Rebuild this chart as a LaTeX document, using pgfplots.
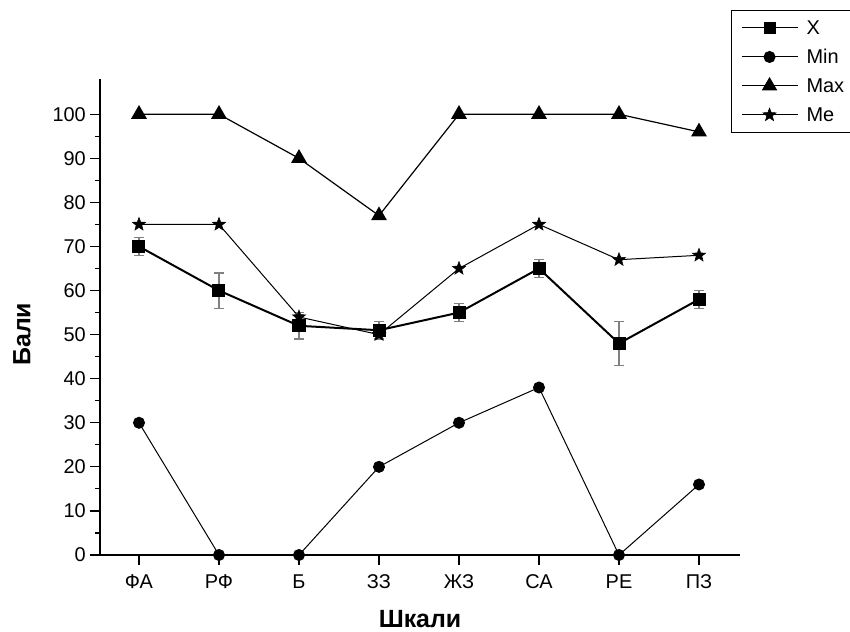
\documentclass[border=0pt]{standalone}
\usepackage{fontspec}
\setmainfont{Liberation Sans}
\usepackage{pgfplots}
\pgfplotsset{compat=1.18}
\pgfdeclareplotmark{fstar}{%
  \pgfpathmoveto{\pgfpointpolar{90}{\pgfplotmarksize}}%
  \pgfpathlineto{\pgfpointpolar{126}{0.42\pgfplotmarksize}}%
  \pgfpathlineto{\pgfpointpolar{162}{\pgfplotmarksize}}%
  \pgfpathlineto{\pgfpointpolar{198}{0.42\pgfplotmarksize}}%
  \pgfpathlineto{\pgfpointpolar{234}{\pgfplotmarksize}}%
  \pgfpathlineto{\pgfpointpolar{270}{0.42\pgfplotmarksize}}%
  \pgfpathlineto{\pgfpointpolar{306}{\pgfplotmarksize}}%
  \pgfpathlineto{\pgfpointpolar{342}{0.42\pgfplotmarksize}}%
  \pgfpathlineto{\pgfpointpolar{18}{\pgfplotmarksize}}%
  \pgfpathlineto{\pgfpointpolar{54}{0.42\pgfplotmarksize}}%
  \pgfpathclose
  \pgfusepathqfillstroke}
\begin{document}
\fontsize{20}{23}\selectfont
\begin{tikzpicture}[font=\fontsize{20}{23}\selectfont]
\path[use as bounding box] (-100bp,-77bp) rectangle (750bp,555bp);
\begin{axis}[
  at={(0,0)}, anchor=south west,
  scale only axis, width=640bp, height=476bp,
  xmin=-0.4875, xmax=7.5125, ymin=0, ymax=108,
  clip=false,
  axis x line=bottom, axis y line=left,
  axis line style={-, line width=1.5bp},
  xtick={0,...,7}, xticklabels={ФА,РФ,Б,ЗЗ,ЖЗ,СА,РЕ,ПЗ},
  ytick={0,10,...,100}, minor y tick num=1,
  tick align=outside, major tick length=10bp, minor tick length=5bp,
  tick style={line width=1.2bp, black},
  tick label style={font=\fontsize{20}{23}\selectfont},
  yticklabel style={inner xsep=4bp},
  xticklabel style={anchor=north, text height=14.3bp, text depth=0bp, inner ysep=9bp},
  /pgf/number format/assume math mode=true,
  xlabel={Шкали}, ylabel={Бали},
  label style={font=\fontsize{25}{28}\selectfont\bfseries},
  xlabel style={at={(axis description cs:0.5,-0.1345)}, anchor=center},
  ylabel style={at={(axis description cs:-0.122,0.464)}, anchor=center},
  legend style={at={(axis description cs:0.986,1.145)}, anchor=north west,
    draw=black, line width=1bp, inner xsep=9bp, inner ysep=3bp,
    nodes={font=\fontsize{20}{23}\selectfont, text height=14bp, text depth=0bp, inner ysep=7.5bp, inner xsep=4bp}},
  legend cell align=left,
  legend image code/.code={\draw[mark repeat=2, mark phase=2, #1, line width=1bp] plot coordinates {(0bp,0bp) (28bp,0bp) (56bp,0bp)}; \path (0bp,0bp) (60bp,0bp);},
]
\addplot[black, line width=2bp, mark=square*, mark size=5.5bp, mark options={solid, fill=black},
  error bars/.cd, y dir=both, y explicit,
  error bar style={gray, line width=1.2bp},
  error mark options={gray, line width=1.2bp, mark size=5bp, rotate=90}]
  coordinates {(0,70) +- (0,2) (1,60) +- (0,4) (2,52) +- (0,3) (3,51) +- (0,2)
               (4,55) +- (0,2) (5,65) +- (0,2) (6,48) +- (0,5) (7,58) +- (0,2)};
\addlegendentry{X}
\addplot[black, line width=1bp, mark=*, mark size=5.5bp, mark options={solid, fill=black}]
  coordinates {(0,30) (1,0) (2,0) (3,20) (4,30) (5,38) (6,0) (7,16)};
\addlegendentry{Min}
\addplot[black, line width=1.2bp, mark=triangle*, mark size=8bp, mark options={solid, fill=black}]
  coordinates {(0,100) (1,100) (2,90) (3,77) (4,100) (5,100) (6,100) (7,96)};
\addlegendentry{Max}
\addplot[black, line width=1bp, mark=fstar, mark size=7bp, mark options={solid, fill=black, line width=0.5bp}]
  coordinates {(0,75) (1,75) (2,54) (3,50) (4,65) (5,75) (6,67) (7,68)};
\addlegendentry{Me}
\end{axis}
\end{tikzpicture}
\end{document}
